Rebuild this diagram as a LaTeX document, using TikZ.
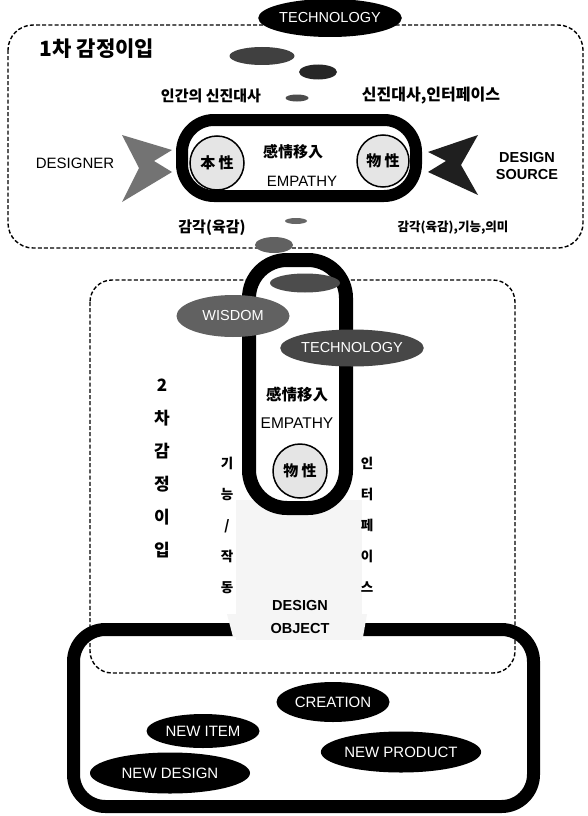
\documentclass[tikz,border=0pt]{standalone}
\usepackage{fontspec}
\setmainfont{Liberation Sans}
\newfontfamily\kr{Noto Sans CJK KR}
\usetikzlibrary{shapes.geometric}
\tikzset{
  dashbox/.style={draw, line width=1.4pt, dash pattern=on 4pt off 2.2pt},
  heavyframe/.style={draw, line width=12pt},
  blob/.style={ellipse, inner sep=0pt, draw=none},
  darkblob/.style={blob, fill=black, text=white, font=\fontsize{14.5}{15}\selectfont},
  grayblob/.style={blob, fill=black!62, text=white, font=\fontsize{14.5}{15}\selectfont},
  krlab/.style={font=\kr\bfseries\fontsize{14}{15}\selectfont, inner sep=0pt},
  enlab/.style={font=\fontsize{15}{16}\selectfont, inner sep=0pt},
  enbold/.style={font=\bfseries\fontsize{14.5}{17}\selectfont, inner sep=0pt, align=center},
  circ/.style={circle, draw, line width=1.5pt, fill=black!10, inner sep=0pt, minimum size=54pt, font=\kr\bfseries\fontsize{15}{16}\selectfont},
  vtext/.style={align=center, inner sep=0pt},
}
\begin{document}
\begin{tikzpicture}[x=1pt,y=-1pt]
\useasboundingbox (0,0) rectangle (588,816);
\fill[white] (0,0) rectangle (588,816);

% dashed regions
\draw[dashbox, rounded corners=25pt] (8,25) rectangle (583,248);
\draw[dashbox, rounded corners=22pt] (90,280) rectangle (515,673);

% faint funnel
\fill[black!4] (236,500) rectangle (362,640);

% top region
\node[darkblob, minimum width=122pt, minimum height=38pt] (tech1) at (330,18) {TECHNOLOGY};
\node[font=\kr\bfseries\fontsize{21}{22}\selectfont, inner sep=0pt] (t1) at (97,49) {1차 감정이입};
\node[blob, fill=black!75, minimum width=65pt, minimum height=18pt] (e1) at (262,56) {};
\node[blob, fill=black!85, minimum width=38pt, minimum height=15pt] (e2) at (318,72) {};
\node[blob, fill=black!70, minimum width=23pt, minimum height=7pt] (e3) at (297,98) {};
\node[krlab, font=\kr\bfseries\fontsize{15}{16}\selectfont] (l1) at (211,96) {인간의 신진대사};
\node[krlab, font=\kr\bfseries\fontsize{16}{16}\selectfont] (l2) at (431,96) {신진대사,인터페이스};

\draw[heavyframe, rounded corners=32pt] (182,120) rectangle (416,196);
\node[circ] (c1) at (217,163) {本 性};
\node[circ, minimum size=52pt] (c2) at (383,161) {物 性};
\node[font=\kr\bfseries\fontsize{15}{16}\selectfont, inner sep=0pt] (g1) at (293,152) {感情移入};
\node[enlab] (emp1) at (302,181) {EMPATHY};

\node[enlab] (designer) at (75,163) {DESIGNER};
\fill[black!55] (122,135) -- (172,150) -- (154,161) -- (172,172) -- (122,202) -- (139,168) -- cycle;
\node[enbold] (source) at (527,166) {DESIGN\\SOURCE};
\fill[black!88] (478,135) -- (428,152) -- (446,161) -- (428,172) -- (478,195) -- (461,165) -- cycle;

\node[krlab, font=\kr\bfseries\fontsize{15}{16}\selectfont] (l3) at (212,228) {감각(육감)};
\node[krlab, font=\kr\bfseries\fontsize{12.5}{13}\selectfont] (l4) at (453,228) {감각(육감),기능,의미};
\node[blob, fill=black!60, minimum width=22pt, minimum height=6pt] (e4) at (296,221) {};
\node[blob, fill=black!62, minimum width=38pt, minimum height=16pt] (e5) at (274,245) {};

% tall frame
\draw[heavyframe, line width=14pt, fill=white, rounded corners=38pt] (249,260) rectangle (346,508);
\node[blob, fill=black!70, minimum width=70pt, minimum height=19pt] (e6) at (305,283) {};
\node[grayblob, minimum width=113pt, minimum height=42pt] (wisdom) at (233,316) {WISDOM};
\node[grayblob, fill=black!72, minimum width=128pt, minimum height=37pt] (tech2) at (352,348) {TECHNOLOGY};
\node[font=\kr\bfseries\fontsize{15.5}{16}\selectfont, inner sep=0pt] (g2) at (297,395) {感情移入};
\node[enlab, font=\fontsize{15.5}{16}\selectfont] (emp2) at (297,423) {EMPATHY};
\node[circ] (c3) at (300,471) {物 性};

% vertical labels
\node[vtext, font=\kr\bfseries\fontsize{17}{33}\selectfont] (v1) at (162,468) {2\\차\\감\\정\\이\\입};
\node[vtext, font=\kr\bfseries\fontsize{13.5}{31}\selectfont] (v2) at (227,525) {기\\능\\/\\작\\동};
\node[vtext, font=\kr\bfseries\fontsize{13.5}{31}\selectfont] (v3) at (367,525) {인\\터\\페\\이\\스};

% bottom frame
\draw[heavyframe, line width=13pt, rounded corners=32pt] (73.5,629.5) rectangle (533.5,806.5);
\fill[black!4] (227,614) -- (367,614) -- (363,637) -- (233,637) -- cycle;
\node[enbold, font=\bfseries\fontsize{14.5}{23}\selectfont] (obj) at (300,617) {DESIGN\\OBJECT};

\node[darkblob, font=\fontsize{15}{16}\selectfont, minimum width=113pt, minimum height=40pt] (creation) at (333,702) {CREATION};
\node[darkblob, font=\fontsize{15}{16}\selectfont, minimum width=113pt, minimum height=34pt] (item) at (203,731) {NEW ITEM};
\node[darkblob, font=\fontsize{15}{16}\selectfont, minimum width=152pt, minimum height=41pt] (product) at (401,752) {NEW PRODUCT};
\node[darkblob, font=\fontsize{15}{16}\selectfont, minimum width=160pt, minimum height=41pt] (ndesign) at (170,773) {NEW DESIGN};
\end{tikzpicture}
\end{document}
